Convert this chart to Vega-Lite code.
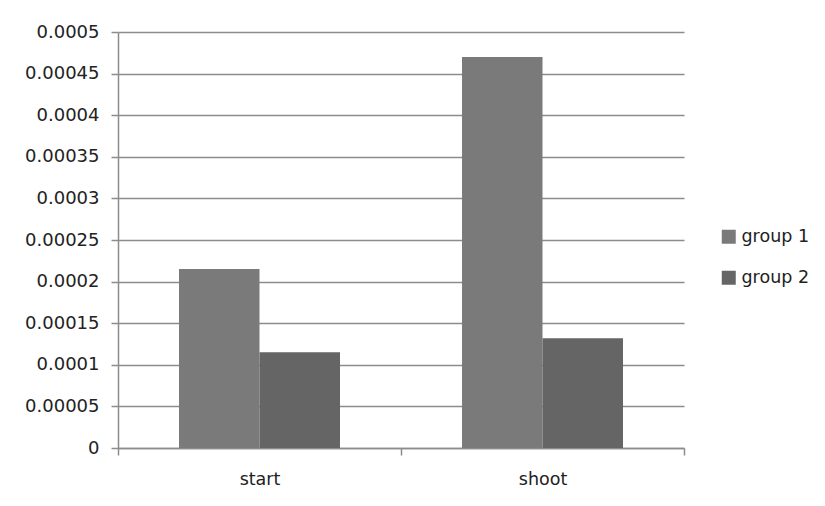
{
  "$schema": "https://vega.github.io/schema/vega-lite/v6.json",
  "width": 566,
  "height": 416,
  "autosize": {"type": "none"},
  "padding": {"left": 118, "top": 32, "right": 141, "bottom": 58},
  "background": "white",
  "data": {
    "values": [
      {"stage": "start", "group": "group 1", "value": 0.000215},
      {"stage": "start", "group": "group 2", "value": 0.000115},
      {"stage": "shoot", "group": "group 1", "value": 0.00047},
      {"stage": "shoot", "group": "group 2", "value": 0.000132}
    ]
  },
  "mark": {"type": "bar"},
  "encoding": {
    "x": {
      "field": "stage",
      "type": "nominal",
      "sort": ["start", "shoot"],
      "scale": {"paddingInner": 0, "paddingOuter": 0},
      "axis": {
        "title": null,
        "labelAngle": 0,
        "tickBand": "extent",
        "domainColor": "#8c8c8c",
        "domainWidth": 1.5,
        "tickColor": "#8c8c8c",
        "tickWidth": 1.5,
        "tickSize": 7,
        "labelPadding": 15,
        "labelFont": "DejaVu Sans",
        "labelFontSize": 17.5,
        "labelColor": "#222222",
        "grid": false
      }
    },
    "xOffset": {
      "field": "group",
      "type": "nominal",
      "scale": {"paddingInner": 0, "paddingOuter": 0.758}
    },
    "y": {
      "field": "value",
      "type": "quantitative",
      "scale": {"domain": [0, 0.0005], "nice": false},
      "axis": {
        "title": null,
        "values": [0, 0.00005, 0.0001, 0.00015, 0.0002, 0.00025, 0.0003, 0.00035, 0.0004, 0.00045, 0.0005],
        "format": ".5~f",
        "domainColor": "#8c8c8c",
        "domainWidth": 1.5,
        "tickColor": "#8c8c8c",
        "tickWidth": 1.5,
        "tickSize": 7,
        "labelPadding": 12,
        "labelFont": "DejaVu Sans",
        "labelFontSize": 18,
        "labelColor": "#222222",
        "grid": true,
        "gridColor": "#8c8c8c",
        "gridWidth": 1.5
      }
    },
    "color": {
      "field": "group",
      "type": "nominal",
      "scale": {"domain": ["group 1", "group 2"], "range": ["#7a7a7a", "#656565"]},
      "legend": {
        "title": null,
        "orient": "none",
        "legendX": 602,
        "legendY": 196,
        "padding": 0,
        "symbolType": "square",
        "symbolSize": 196,
        "symbolStrokeWidth": 0,
        "labelOffset": 4,
        "rowPadding": 22,
        "labelFont": "DejaVu Sans",
        "labelFontSize": 17.5,
        "labelColor": "#222222"
      }
    }
  },
  "config": {
    "view": {"stroke": null}
  }
}
